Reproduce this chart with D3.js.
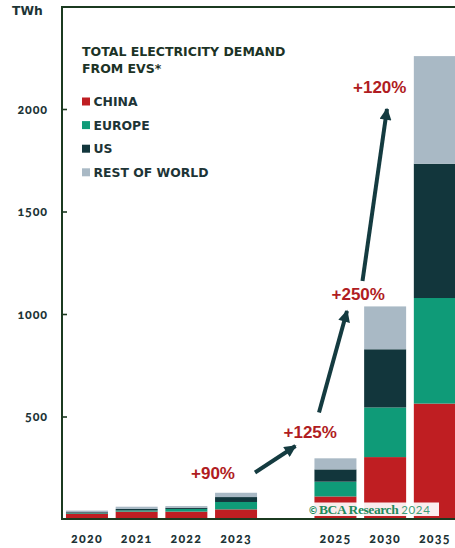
<!DOCTYPE html>
<html>
<head>
<meta charset="utf-8">
<script src="https://cdn.jsdelivr.net/npm/d3@7"></script>
<style>
  html, body { margin: 0; padding: 0; background: #fff; }
  svg { display: block; }
  .tick text { font-family: Lato, "Open Sans", sans-serif; font-weight: 900; font-variant-numeric: oldstyle-nums; fill: #1d3436; }
</style>
</head>
<body>
<svg id="chart" width="455" height="548"></svg>
<script>
// EV electricity demand, TWh
const years  = ['2020', '2021', '2022', '2023', '2025', '2030', '2035'];
const china  = [25, 36, 36, 47, 110, 302, 563];
const europe = [3, 6, 13, 36, 72, 242, 515];
const us     = [5, 7, 6, 24, 60, 284, 655];
const rest   = [8, 11, 8, 21, 54, 209, 525];
const seriesNames = ['CHINA', 'EUROPE', 'US', 'REST OF WORLD'];
const yTicks = [500, 1000, 1500, 2000];
const growthLabels = ['+90%', '+125%', '+250%', '+120%'];

const colors = ['#bf1e22', '#0f9b78', '#12363c', '#a9b9c5'];
const frameColor = '#1b3a20';
const labelRed = '#b01c22';
const arrowColor = '#143b40';

const svg = d3.select('#chart');
const W = 455, H = 548;
const plotLeft = 62, plotTop = 7, baseY = 519;

// band domain keeps an empty slot between the history and the projections
const bandDomain = ['2020', '2021', '2022', '2023', 'gap', '2025', '2030', '2035'];
const x = d3.scaleBand().domain(bandDomain).range([62, 459.8]).paddingInner(0.155).paddingOuter(0.08);
const y = d3.scaleLinear().domain([0, 2000]).range([baseY, 109]);

const rows = years.map((yr, i) => ({ year: yr, CHINA: china[i], EUROPE: europe[i], US: us[i], 'REST OF WORLD': rest[i] }));
const stacked = d3.stack().keys(seriesNames)(rows);

const defs = svg.append('defs');
defs.append('clipPath').attr('id', 'plotClip')
  .append('rect').attr('x', plotLeft).attr('y', 0).attr('width', W - plotLeft).attr('height', baseY);

// stacked bars
const barsG = svg.append('g').attr('clip-path', 'url(#plotClip)');
stacked.forEach((layer, li) => {
  barsG.append('g').attr('fill', colors[li])
    .selectAll('rect').data(layer).join('rect')
    .attr('x', d => x(d.data.year))
    .attr('width', x.bandwidth())
    .attr('y', d => y(d[1]))
    .attr('height', d => y(d[0]) - y(d[1]));
});

// y axis with inward ticks
const yAxis = svg.append('g').attr('transform', `translate(${plotLeft},0)`)
  .call(d3.axisLeft(y).tickValues(yTicks).tickSize(-5).tickPadding(14).tickFormat(d3.format('d')));
yAxis.select('.domain').remove();
yAxis.selectAll('.tick line').attr('stroke', frameColor).attr('stroke-width', 1.6);
yAxis.selectAll('.tick text').attr('font-size', 12.5).attr('letter-spacing', 0.9);

// x axis labels
const xAxis = svg.append('g').attr('transform', `translate(0,${baseY})`)
  .call(d3.axisBottom(x).tickValues(years).tickSize(0).tickPadding(15));
xAxis.select('.domain').remove();
xAxis.selectAll('.tick text').attr('font-size', 12.5).attr('letter-spacing', 1.2);

// frame: left, top, bottom
svg.append('path')
  .attr('d', `M${W},${plotTop}H${plotLeft}V${baseY}H${W}`)
  .attr('fill', 'none').attr('stroke', frameColor).attr('stroke-width', 2);

// unit label
svg.append('text').attr('x', 12).attr('y', 14.5)
  .attr('font-family', '"DejaVu Sans", sans-serif').attr('font-weight', 700).attr('font-size', 12.3)
  .attr('fill', '#1d3436').text('TWh');

// legend
const lg = svg.append('g').attr('font-family', '"DejaVu Sans", "Open Sans", sans-serif').attr('font-weight', 700);
lg.append('text').attr('x', 82).attr('y', 56).attr('font-size', 12.5).attr('fill', '#1c3326')
  .text('TOTAL ELECTRICITY DEMAND');
lg.append('text').attr('x', 82).attr('y', 72.5).attr('font-size', 12.5).attr('fill', '#1c3326')
  .text('FROM EVS*');
seriesNames.forEach((name, i) => {
  const yy = 106 + i * 23.6;
  lg.append('rect').attr('x', 82).attr('y', yy - 8.5).attr('width', 8).attr('height', 8).attr('fill', colors[i]);
  lg.append('text').attr('x', 93.5).attr('y', yy).attr('font-size', 12.4).attr('fill', '#1d3436').text(name);
});

// growth annotations with arrows
const marker = defs.append('marker').attr('id', 'arrowHead')
  .attr('viewBox', '0 0 10 10').attr('refX', 9).attr('refY', 5)
  .attr('markerUnits', 'userSpaceOnUse').attr('markerWidth', 14).attr('markerHeight', 12)
  .attr('orient', 'auto');
marker.append('path').attr('d', 'M0,0L10,5L0,10Z').attr('fill', arrowColor);

const arrows = [
  [[255, 472.5], [295.5, 446]],
  [[319, 412.5], [347, 311]],
  [[362.5, 281], [387, 109]]
];
arrows.forEach(([a, b]) => {
  svg.append('line')
    .attr('x1', a[0]).attr('y1', a[1]).attr('x2', b[0]).attr('y2', b[1])
    .attr('stroke', arrowColor).attr('stroke-width', 4)
    .attr('marker-end', 'url(#arrowHead)');
});

const labelSpots = [[191, 479], [283.5, 437.5], [331.5, 300], [353, 93]];
growthLabels.forEach((t, i) => {
  svg.append('text').attr('x', labelSpots[i][0]).attr('y', labelSpots[i][1])
    .attr('font-family', '"Liberation Sans", Arial, sans-serif').attr('font-weight', 700)
    .attr('font-size', 17).attr('fill', labelRed).text(t);
});

// source mark
const wm = svg.append('g');
wm.append('rect').attr('x', 307).attr('y', 502.5).attr('width', 132).attr('height', 13.5)
  .attr('fill', '#fff').attr('opacity', 0.92);
const wt = wm.append('text').attr('x', 308).attr('y', 514).attr('fill', '#1f8a5c');
wt.append('tspan').attr('font-family', '"DejaVu Sans", sans-serif').attr('font-weight', 700).attr('font-size', 10).text('©');
wt.append('tspan').attr('font-family', '"Liberation Serif", serif').attr('font-weight', 700).attr('font-size', 13.5)
  .attr('dx', 1).attr('letter-spacing', -0.4).text('BCA Research');
wt.append('tspan').attr('font-family', 'Lato, sans-serif').attr('font-size', 11.5).attr('fill', '#3f9e78')
  .attr('dx', 3).attr('letter-spacing', 0.6).text('2024');
</script>
</body>
</html>
